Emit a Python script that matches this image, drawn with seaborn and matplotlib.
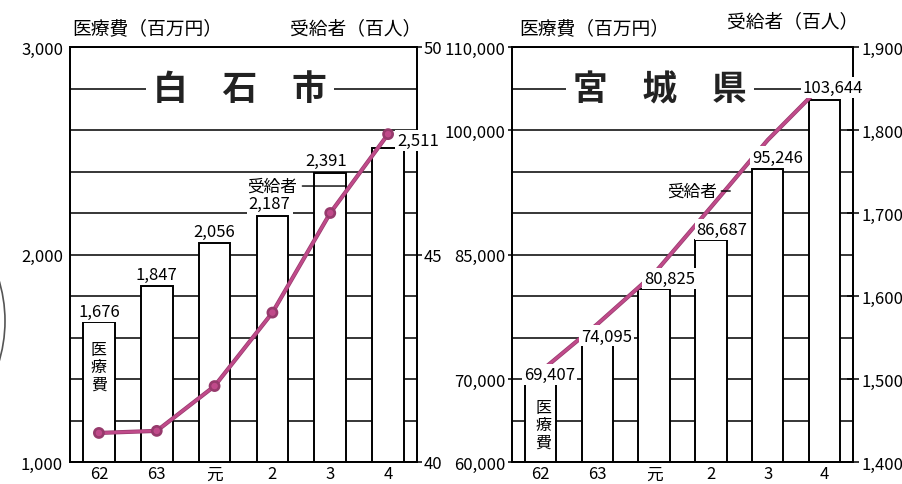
import matplotlib
matplotlib.use("Agg")
import matplotlib.pyplot as plt
import matplotlib.patheffects as pe
import matplotlib.transforms as mtrans
from matplotlib.ticker import MultipleLocator, FixedLocator, FuncFormatter
from matplotlib.patches import Arc
import seaborn as sns
import pandas as pd

# ---------------- data ----------------
years = ["62", "63", "元", "2", "3", "4"]
shiroishi_cost = [1676, 1847, 2056, 2187, 2391, 2511]          # 医療費（百万円）
shiroishi_recip = [40.7, 40.75, 41.83, 43.6, 46.0, 47.9]        # 受給者（百人）
miyagi_cost = [69407, 74095, 80825, 86687, 95246, 103644]      # 医療費（百万円）
miyagi_recip = [1509, 1566, 1627, 1707, 1788, 1857]             # 受給者（百人）

shiroishi_left_ticks = [1000, 2000, 3000]
shiroishi_right_ticks = [40, 45, 50]
miyagi_left_ticks = [60000, 70000, 85000, 100000, 110000]
miyagi_right_ticks = [1400, 1500, 1600, 1700, 1800, 1900]

plt.rcParams["font.family"] = ["Noto Sans CJK JP", "DejaVu Sans"]

LINE = "#c04a8a"
EDGE = "#963a6c"
W, H = 903, 485

fig = plt.figure(figsize=(W / 100, H / 100), dpi=100, facecolor="white")


def axrect(x0, x1, y0, y1):
    return [x0 / W, 1 - y1 / H, (x1 - x0) / W, (y1 - y0) / H]


def comma(v, pos=None):
    return f"{int(round(v)):,}"


def draw_panel(rect, cost, recip, ylim, ylim2, step, lticks, rticks,
               marker_size, rtick_dir, rtick_len, lpad, llen):
    ax = fig.add_axes(rect)
    df = pd.DataFrame({"year": years, "cost": cost, "recip": recip})
    sns.barplot(data=df, x="year", y="cost", ax=ax, color="white",
                edgecolor="black", linewidth=1.4, width=0.55,
                errorbar=None, saturation=1)
    ax.set_ylim(*ylim)
    ax.yaxis.set_major_locator(FixedLocator(lticks))
    ax.yaxis.set_minor_locator(MultipleLocator(step))
    ax.yaxis.set_major_formatter(FuncFormatter(comma))
    ax.grid(True, which="both", axis="y", color="black", linewidth=1.1)
    ax.set_axisbelow(True)
    ax.tick_params(axis="y", which="major", length=llen, width=1.1,
                   pad=lpad, labelsize=12)
    ax.tick_params(axis="y", which="minor", length=0)
    ax.tick_params(axis="x", length=0, pad=2.5, labelsize=12)
    ax.set_xlabel("")
    ax.set_ylabel("")
    for s in ax.spines.values():
        s.set_color("black")
        s.set_linewidth(1.3)

    axr = ax.twinx()
    sns.pointplot(data=df, x="year", y="recip", ax=axr, color=LINE,
                  linewidth=2.0, markersize=marker_size,
                  markeredgewidth=0.8 if marker_size else 0,
                  markeredgecolor=EDGE, errorbar=None)
    for ln in axr.lines:
        ln.set_path_effects([pe.Stroke(linewidth=3.0, foreground=EDGE),
                             pe.Normal()])
        ln.set_solid_capstyle("butt")
    axr.set_ylim(*ylim2)
    axr.set_yticks(rticks)
    axr.yaxis.set_major_formatter(FuncFormatter(comma))
    axr.tick_params(axis="y", direction=rtick_dir, length=rtick_len,
                    width=1.1, pad=1.5, labelsize=12)
    axr.set_xlabel("")
    axr.set_ylabel("")
    for s in axr.spines.values():
        s.set_color("black")
        s.set_linewidth(1.3)
    ax.set_xlim(-0.5, len(years) - 0.5)
    return ax, axr


# ---------------- 白石市 ----------------
ax1, ax1r = draw_panel(axrect(70, 417, 48, 463), shiroishi_cost, shiroishi_recip,
                       (1000, 3000), (40, 50), 200, shiroishi_left_ticks,
                       shiroishi_right_ticks, 5.5, "out", 3.5, 5, 0)

# ---------------- 宮城県 ----------------
ax2, ax2r = draw_panel(axrect(512, 853, 48, 463), miyagi_cost, miyagi_recip,
                       (60000, 110000), (1400, 1900), 5000, miyagi_left_ticks,
                       miyagi_right_ticks, 0, "inout", 9, 2, 3)

box = dict(boxstyle="square,pad=0.12", fc="white", ec="none")


def value_labels(ax, axr, cost, offsets):
    for i, (v, (dx, dy)) in enumerate(zip(cost, offsets)):
        axr.annotate(f"{v:,}", xy=(i, v), xycoords=ax.transData,
                     xytext=(dx, dy), textcoords="offset points",
                     ha="center", va="center", fontsize=12, bbox=box,
                     zorder=10, annotation_clip=False)


value_labels(ax1, ax1r, shiroishi_cost,
             [(0, 7.5), (0, 8.5), (0, 8.5), (-2, 8.5), (-3, 9), (21.5, 6)])
value_labels(ax2, ax2r, miyagi_cost,
             [(6.5, 7), (6.5, 6.5), (11, 8), (8, 8), (7, 9), (6, 9)])

# titles inside the plots, breaking a grid line
for ax, axr, name, xfrac, yval in [
        (ax1, ax1r, "白　石　市", 0.49, 2800),
        (ax2, ax2r, "宮　城　県", 0.434, 105000)]:
    tr = mtrans.blended_transform_factory(ax.transAxes, ax.transData)
    axr.text(xfrac, yval, name, transform=tr, ha="center", va="center",
             fontsize=25, fontweight="bold", color="#222222",
             bbox=dict(boxstyle="square,pad=0.2", fc="white", ec="none"),
             zorder=10)

# 受給者 leader labels
ax1r.annotate("受給者", xy=(4.28, 2330), xycoords=ax1.transData,
              xytext=(2.99, 2330), textcoords=ax1.transData,
              ha="center", va="center", fontsize=12, zorder=10,
              arrowprops=dict(arrowstyle="-", color="black", lw=1.0,
                              shrinkA=2, shrinkB=0))
ax2r.annotate("受給者", xy=(3.34, 92650), xycoords=ax2.transData,
              xytext=(2.67, 92650), textcoords=ax2.transData,
              ha="center", va="center", fontsize=12, zorder=10,
              arrowprops=dict(arrowstyle="-", color="black", lw=1.0,
                              shrinkA=1, shrinkB=0))

# vertical 医療費 in first bars
ax1r.text(0, 1458, "医\n療\n費", transform=ax1.transData, ha="center",
          va="center", fontsize=11.5, linespacing=1.0, zorder=10)
ax2r.text(0.05, 64460, "医\n療\n費", transform=ax2.transData, ha="center",
          va="center", fontsize=11.5, linespacing=1.0, zorder=10)

# axis titles
fig.text(72 / W, 1 - 29 / H, "医療費（百万円）", ha="left", va="center", fontsize=13.5)
fig.text(421 / W, 1 - 29 / H, "受給者（百人）", ha="right", va="center", fontsize=13.5)
fig.text(519 / W, 1 - 29 / H, "医療費（百万円）", ha="left", va="center", fontsize=13.5)
fig.text(858 / W, 1 - 22 / H, "受給者（百人）", ha="right", va="center", fontsize=13.5)

# scanned page edge arc on the far left
fig.patches.append(Arc((-88 / W, 1 - 322 / H), 186 / W, 230 / H,
                       transform=fig.transFigure, color="#555555", lw=1.2))

fig.savefig("out.png", dpi=100, facecolor="white")
